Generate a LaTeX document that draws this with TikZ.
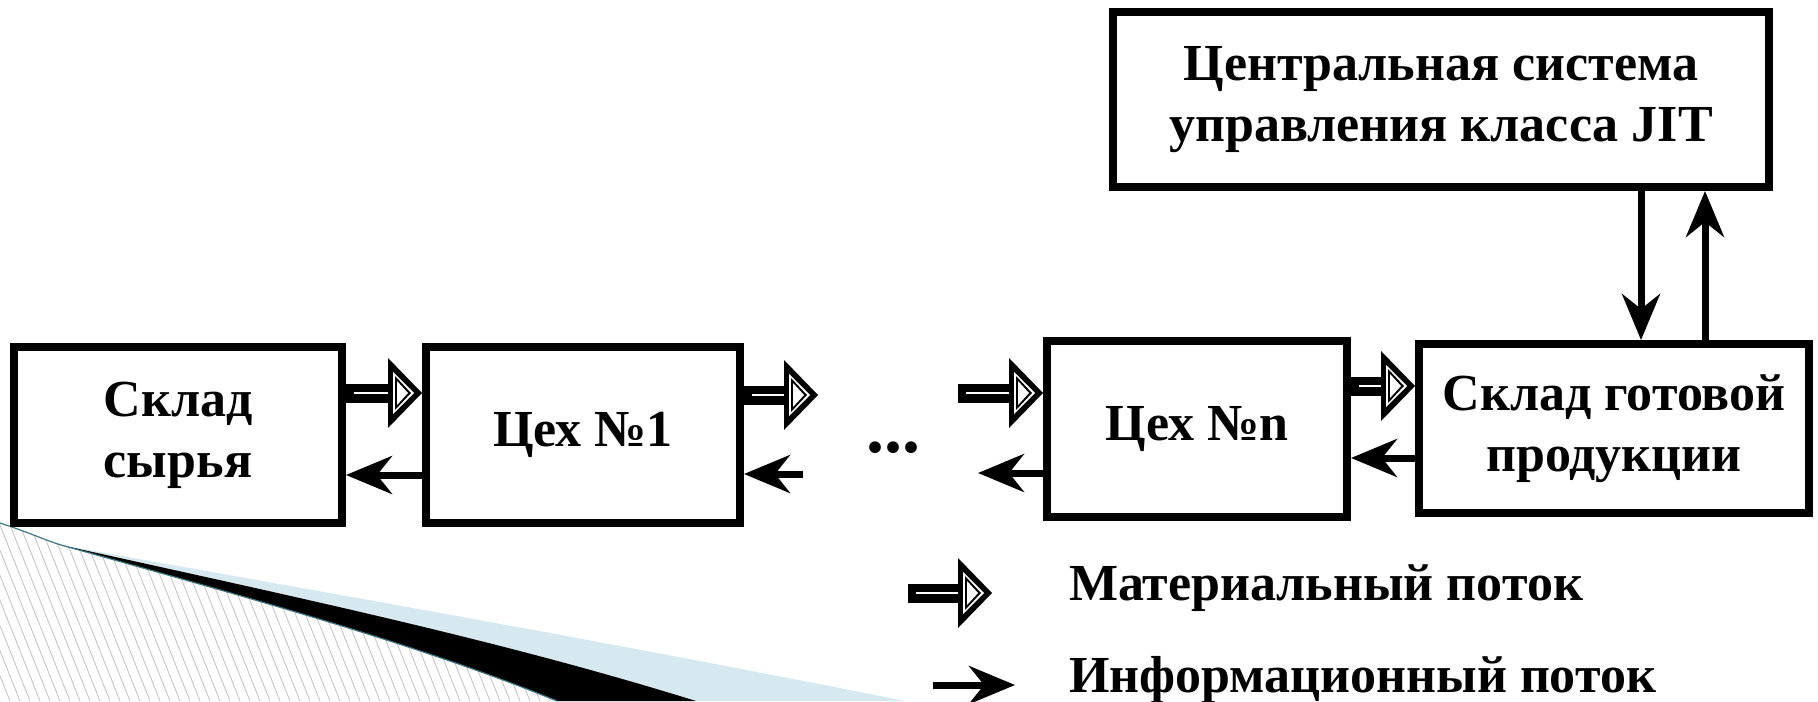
\documentclass[tikz,border=0pt]{standalone}
\usepackage{fontspec}
\setmainfont{Liberation Serif}
\usetikzlibrary{arrows.meta,decorations.markings,calc}
\definecolor{wedgeblue}{RGB}{214,233,241}
\definecolor{edgeteal}{RGB}{60,120,130}
\newcommand\matheadshape{%
  \fill (-34,-35) -- (0,0) -- (-34,35) -- cycle;
  \fill[white] (-29,-21) -- (-8,0) -- (-29,21) -- cycle;
  \fill (-27,-17) -- (-11,0) -- (-27,17) -- cycle;
  \fill[white] (-25,-12) -- (-14,0) -- (-25,12) -- cycle;}
\tikzset{
  txt/.style={font=\fontsize{26}{30.5}\selectfont\bfseries},
  box/.style={draw, line width=4pt, inner sep=0pt, align=center, txt},
  info/.style={line width=3.5pt, -{Stealth[length=23pt, width=19pt, inset=7.5pt]}},
  matflow/.style={line width=9.5pt, shorten >=14pt,
    postaction={draw=white, line width=0.7pt, shorten <=4pt, shorten >=14pt},
    postaction={decorate, decoration={markings, mark=at position 1 with {\matheadshape}}}},
  hatch/.style={gray!45, line width=0.45pt},
}
\begin{document}
\begin{tikzpicture}[x=0.5pt, y=-0.5pt]
\useasboundingbox[fill=white] (0,0) rectangle (1818,701);

% decorative corner
\begin{scope}
  \clip (0,523) .. controls (25,531) and (45,540) .. (61,545)
        .. controls (250,598) and (420,645) .. (557,701) -- (0,701) -- cycle;
  \foreach \i in {-200,-190,...,600} \draw[hatch] (\i,500) -- (\i+80,701);
\end{scope}
\fill[wedgeblue] (61,545) .. controls (300,598) and (500,640) .. (696,701) -- (905,701)
   .. controls (600,640) and (300,588) .. (61,545) -- cycle;
\fill[black] (61,545) .. controls (250,598) and (420,645) .. (557,701) -- (696,701)
   .. controls (500,640) and (300,598) .. (61,545) -- cycle;
\draw[edgeteal, line width=0.6pt] (0,523) .. controls (25,531) and (45,540) .. (61,545)
        .. controls (250,598) and (420,645) .. (557,701);

% boxes
\node[box, minimum width=164pt, minimum height=88pt] (b1) at (178,435) {Склад\\сырья};
\node[box, minimum width=157pt, minimum height=88pt] (b2) at (583,435) {Цех №1};
\node[box, minimum width=150pt, minimum height=88pt] (b3) at (1197,429) {Цех №n};
\node[box, minimum width=195pt, minimum height=84.5pt] (b4) at (1614,428.5) {Склад готовой\\продукции};
\node[box, minimum width=328pt, minimum height=87.5pt] (top) at (1441,99.5) {Центральная система\\управления класса JIT};
\node[font=\fontsize{36}{40}\selectfont\bfseries, anchor=base, inner sep=0pt] (dots) at (893,452) {...};

% free ends
\coordinate (m2) at (818,395);
\coordinate (m3) at (958,393);
\coordinate (i2) at (803,474);
\coordinate (i3) at (978,473);

% material flows
\draw[matflow] (b1.east |- 0,393) -- (b2.west |- 0,393);
\draw[matflow] (b2.east |- 0,395) -- (m2);
\draw[matflow] (m3) -- (b3.west |- 0,393);
\draw[matflow] (b3.east |- 0,386) -- (b4.west |- 0,386);

% information flows
\draw[info] (b2.west |- 0,475) -- (b1.east |- 0,475);
\draw[info] (i2) -- (b2.east |- 0,474);
\draw[info] (b3.west |- 0,473) -- (i3);
\draw[info] (b4.west |- 0,458) -- (b3.east |- 0,458);
\draw[info] (top.south -| 1641,0) -- (b4.north -| 1641,0);
\draw[info] (b4.north -| 1705,0) -- (top.south -| 1705,0);

% legend
\coordinate (lm1) at (908,593);
\coordinate (lm2) at (992,593);
\coordinate (li1) at (933,685);
\coordinate (li2) at (1015,685);
\draw[matflow] (lm1) -- (lm2);
\draw[info] (li1) -- (li2);
\node[txt, anchor=base west] (lmt) at (1062,600) {Материальный поток};
\node[txt, anchor=base west] (lit) at (1062,692) {Информационный поток};
\end{tikzpicture}
\end{document}
